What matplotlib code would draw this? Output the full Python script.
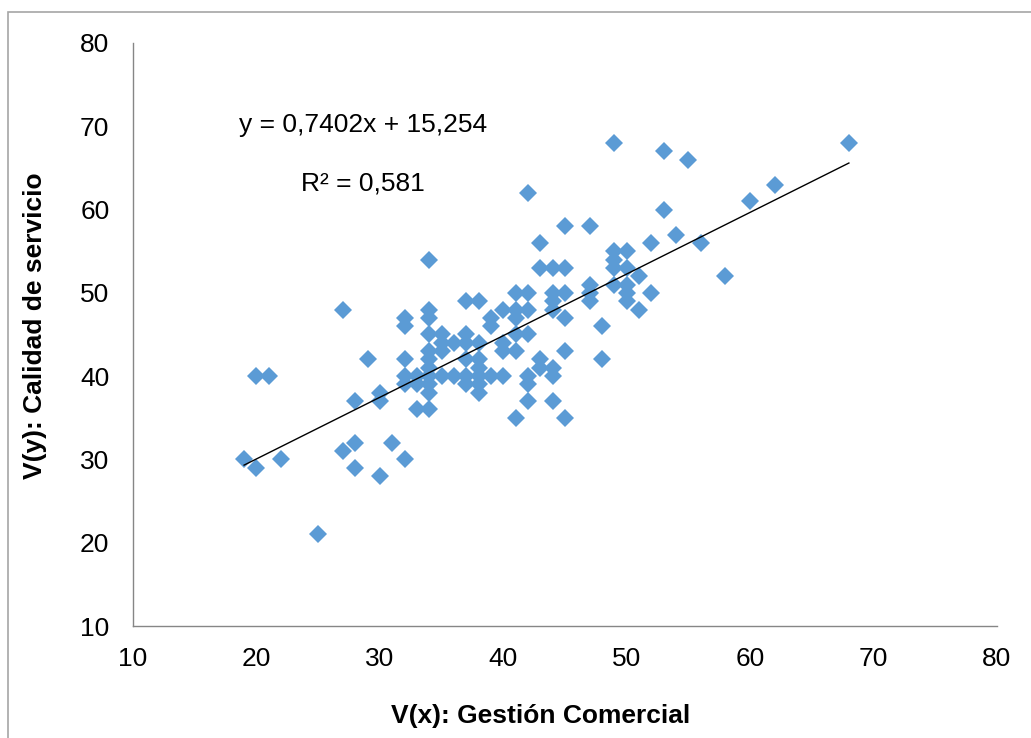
import matplotlib
matplotlib.use("Agg")
import matplotlib.pyplot as plt
import numpy as np
from matplotlib.patches import Rectangle

plt.rcParams['font.family'] = ['Liberation Sans', 'DejaVu Sans']

gestion = [19, 20, 20, 21, 22, 25, 27, 27, 28, 28, 28, 29, 30, 30, 30, 31,
           32, 32, 32, 32, 32, 32, 33, 33, 33,
           34, 34, 34, 34, 34, 34, 34, 34, 34, 34, 34,
           35, 35, 35, 35, 36, 36,
           37, 37, 37, 37, 37, 37,
           38, 38, 38, 38, 38, 38, 38,
           39, 39, 39, 40, 40, 40, 40,
           41, 41, 41, 41, 41, 41,
           42, 42, 42, 42, 42, 42, 42,
           43, 43, 43, 43,
           44, 44, 44, 44, 44, 44, 44,
           45, 45, 45, 45, 45, 45,
           47, 47, 47, 47, 48, 48,
           49, 49, 49, 49, 49,
           50, 50, 50, 50, 50,
           51, 51, 52, 52, 53, 53, 54, 55, 56, 58, 60, 62, 68]
calidad = [30, 29, 40, 40, 30, 21, 48, 31, 37, 32, 29, 42, 38, 37, 28, 32,
           47, 46, 42, 40, 39, 30, 40, 39, 36,
           54, 48, 47, 45, 43, 42, 41, 40, 39, 38, 36,
           45, 44, 43, 40, 44, 40,
           49, 45, 44, 42, 40, 39,
           49, 44, 42, 41, 40, 39, 38,
           47, 46, 40, 48, 44, 43, 40,
           50, 48, 47, 45, 43, 35,
           62, 50, 48, 45, 40, 39, 37,
           56, 53, 42, 41,
           53, 50, 49, 48, 41, 40, 37,
           58, 53, 50, 47, 43, 35,
           58, 51, 50, 49, 46, 42,
           68, 55, 54, 53, 51,
           55, 53, 51, 50, 49,
           52, 48, 56, 50, 67, 60, 57, 66, 56, 52, 61, 63, 68]

slope = 0.7402
intercept = 15.254
eq_text = "y = 0,7402x + 15,254"
r2_text = "R² = 0,581"

W, H = 1031, 738
fig = plt.figure(figsize=(W / 100, H / 100), dpi=100)
fig.patch.set_facecolor('white')

# chart border
fig.add_artist(Rectangle((8 / W, -0.05), 1.2, (H - 12) / H + 0.05,
                         transform=fig.transFigure, fill=False,
                         edgecolor='#a6a6a6', linewidth=1.2))

ax = fig.add_axes([133 / W, 1 - 626 / H, (997 - 133) / W, (626 - 43) / H])
ax.set_xlim(10, 80)
ax.set_ylim(10, 80)
ax.set_xticks(np.arange(10, 81, 10))
ax.set_yticks(np.arange(10, 81, 10))
for s in ['top', 'right']:
    ax.spines[s].set_visible(False)
for s in ['left', 'bottom']:
    ax.spines[s].set_color('#868686')
    ax.spines[s].set_linewidth(1.0)
ax.tick_params(length=0, labelsize=19, colors='black')
ax.tick_params(axis='y', pad=17)
ax.tick_params(axis='x', pad=15)

ax.plot(gestion, calidad, linestyle='none', marker='D', markersize=8.7,
        color='#5b9bd5', markeredgewidth=0, zorder=3)

xs = np.array([min(gestion), max(gestion)])
ax.plot(xs, slope * xs + intercept, color='black', linewidth=1.0, zorder=4)

ax.text(363 / W, 1 - 125 / H, eq_text, transform=fig.transFigure,
        ha='center', va='center', fontsize=19)
ax.text(363 / W, 1 - 183 / H, r2_text, transform=fig.transFigure,
        ha='center', va='center', fontsize=19)

fig.text(541 / W, 1 - 716 / H, "V(x): Gestión Comercial", ha='center',
         va='center', fontsize=19, fontweight='bold')
fig.text(35 / W, 1 - 326 / H, "V(y): Calidad de servicio", ha='center',
         va='center', fontsize=19, fontweight='bold', rotation=90)

fig.savefig('out.png', dpi=100)
